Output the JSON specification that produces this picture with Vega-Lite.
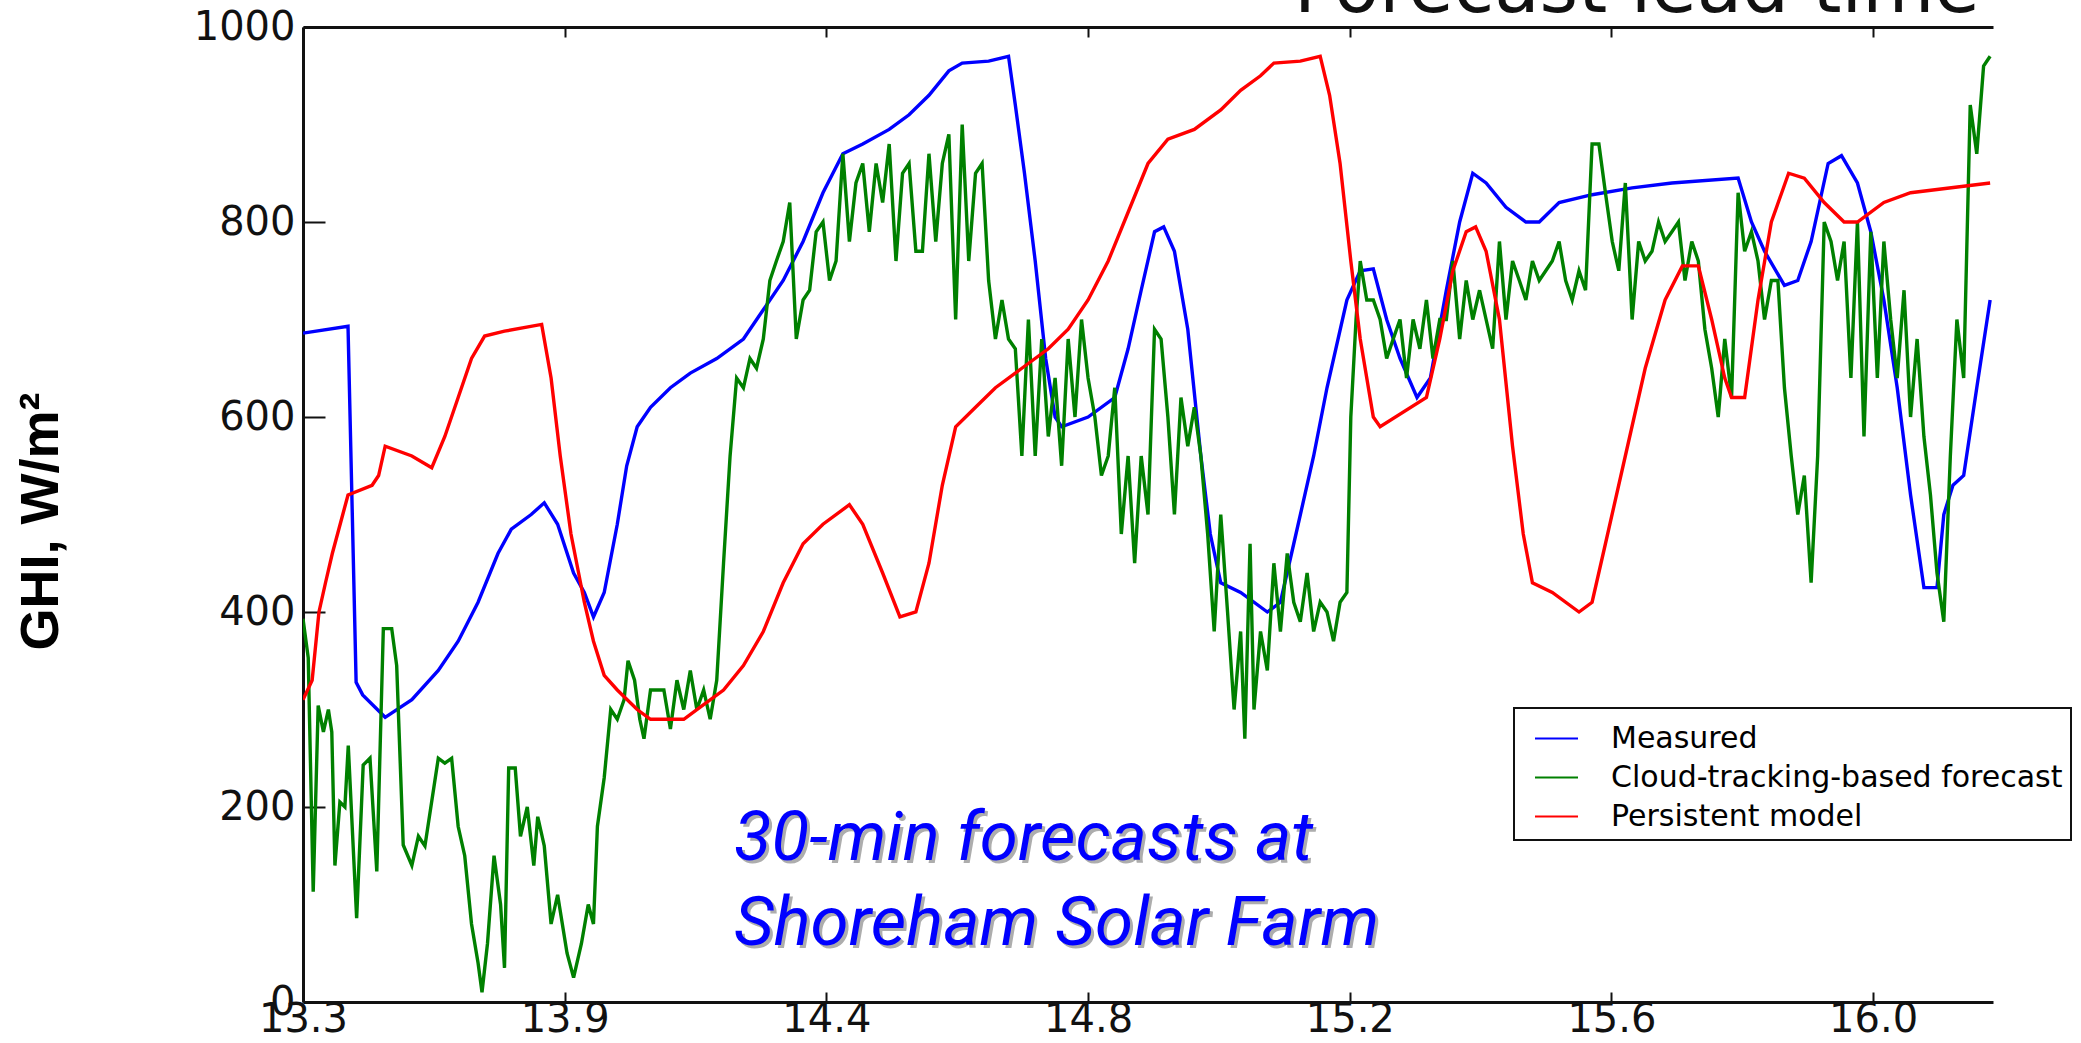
{
"$schema":"https://vega.github.io/schema/vega-lite/v6.json",
"width":1690,"height":975,
"autosize":{"type":"none"},
"padding":{"left":303,"top":27,"right":88,"bottom":41},
"background":"white",
"config":{"view":{"stroke":null},"axis":{"grid":false},"legend":{"strokeWidth":2}},
"datasets":{"lines":[
{"s":"Measured","t":0,"v":686},{"s":"Measured","t":0.172,"v":693},{"s":"Measured","t":0.203,"v":328},{"s":"Measured","t":0.228,"v":315},{"s":"Measured","t":0.314,"v":292},{"s":"Measured","t":0.416,"v":310},{"s":"Measured","t":0.517,"v":340},{"s":"Measured","t":0.593,"v":370},{"s":"Measured","t":0.669,"v":410},{"s":"Measured","t":0.745,"v":460},{"s":"Measured","t":0.796,"v":485},{"s":"Measured","t":0.872,"v":500},{"s":"Measured","t":0.922,"v":512},{"s":"Measured","t":0.973,"v":490},{"s":"Measured","t":1.034,"v":440},{"s":"Measured","t":1.075,"v":420},{"s":"Measured","t":1.11,"v":395},{"s":"Measured","t":1.151,"v":420},{"s":"Measured","t":1.201,"v":490},{"s":"Measured","t":1.237,"v":550},{"s":"Measured","t":1.277,"v":590},{"s":"Measured","t":1.328,"v":610},{"s":"Measured","t":1.404,"v":630},{"s":"Measured","t":1.48,"v":645},{"s":"Measured","t":1.581,"v":660},{"s":"Measured","t":1.683,"v":680},{"s":"Measured","t":1.759,"v":710},{"s":"Measured","t":1.835,"v":740},{"s":"Measured","t":1.911,"v":780},{"s":"Measured","t":1.987,"v":830},{"s":"Measured","t":2.063,"v":870},{"s":"Measured","t":2.139,"v":880},{"s":"Measured","t":2.24,"v":895},{"s":"Measured","t":2.316,"v":910},{"s":"Measured","t":2.392,"v":930},{"s":"Measured","t":2.468,"v":955},{"s":"Measured","t":2.519,"v":963},{"s":"Measured","t":2.62,"v":965},{"s":"Measured","t":2.696,"v":970},{"s":"Measured","t":2.722,"v":920},{"s":"Measured","t":2.757,"v":850},{"s":"Measured","t":2.798,"v":760},{"s":"Measured","t":2.838,"v":660},{"s":"Measured","t":2.874,"v":600},{"s":"Measured","t":2.899,"v":590},{"s":"Measured","t":3.0,"v":600},{"s":"Measured","t":3.102,"v":620},{"s":"Measured","t":3.153,"v":670},{"s":"Measured","t":3.203,"v":730},{"s":"Measured","t":3.254,"v":790},{"s":"Measured","t":3.289,"v":795},{"s":"Measured","t":3.33,"v":770},{"s":"Measured","t":3.381,"v":690},{"s":"Measured","t":3.431,"v":560},{"s":"Measured","t":3.467,"v":480},{"s":"Measured","t":3.507,"v":430},{"s":"Measured","t":3.583,"v":420},{"s":"Measured","t":3.685,"v":400},{"s":"Measured","t":3.735,"v":410},{"s":"Measured","t":3.786,"v":470},{"s":"Measured","t":3.862,"v":560},{"s":"Measured","t":3.913,"v":630},{"s":"Measured","t":3.989,"v":720},{"s":"Measured","t":4.04,"v":750},{"s":"Measured","t":4.09,"v":752},{"s":"Measured","t":4.141,"v":700},{"s":"Measured","t":4.192,"v":660},{"s":"Measured","t":4.257,"v":620},{"s":"Measured","t":4.308,"v":640},{"s":"Measured","t":4.369,"v":730},{"s":"Measured","t":4.42,"v":800},{"s":"Measured","t":4.47,"v":850},{"s":"Measured","t":4.521,"v":840},{"s":"Measured","t":4.597,"v":815},{"s":"Measured","t":4.673,"v":800},{"s":"Measured","t":4.724,"v":800},{"s":"Measured","t":4.8,"v":820},{"s":"Measured","t":4.926,"v":828},{"s":"Measured","t":5.079,"v":835},{"s":"Measured","t":5.231,"v":840},{"s":"Measured","t":5.484,"v":845},{"s":"Measured","t":5.535,"v":800},{"s":"Measured","t":5.585,"v":770},{"s":"Measured","t":5.661,"v":735},{"s":"Measured","t":5.712,"v":740},{"s":"Measured","t":5.763,"v":780},{"s":"Measured","t":5.828,"v":860},{"s":"Measured","t":5.879,"v":868},{"s":"Measured","t":5.94,"v":840},{"s":"Measured","t":5.991,"v":790},{"s":"Measured","t":6.041,"v":720},{"s":"Measured","t":6.092,"v":630},{"s":"Measured","t":6.143,"v":520},{"s":"Measured","t":6.194,"v":425},{"s":"Measured","t":6.244,"v":425},{"s":"Measured","t":6.27,"v":500},{"s":"Measured","t":6.305,"v":530},{"s":"Measured","t":6.346,"v":540},{"s":"Measured","t":6.396,"v":630},{"s":"Measured","t":6.447,"v":720},
{"s":"Cloud-tracking-based forecast","t":0,"v":393},{"s":"Cloud-tracking-based forecast","t":0.02,"v":353},{"s":"Cloud-tracking-based forecast","t":0.039,"v":113},{"s":"Cloud-tracking-based forecast","t":0.058,"v":304},{"s":"Cloud-tracking-based forecast","t":0.078,"v":277},{"s":"Cloud-tracking-based forecast","t":0.097,"v":300},{"s":"Cloud-tracking-based forecast","t":0.11,"v":277},{"s":"Cloud-tracking-based forecast","t":0.122,"v":140},{"s":"Cloud-tracking-based forecast","t":0.141,"v":205},{"s":"Cloud-tracking-based forecast","t":0.16,"v":200},{"s":"Cloud-tracking-based forecast","t":0.173,"v":263},{"s":"Cloud-tracking-based forecast","t":0.205,"v":86},{"s":"Cloud-tracking-based forecast","t":0.23,"v":243},{"s":"Cloud-tracking-based forecast","t":0.256,"v":250},{"s":"Cloud-tracking-based forecast","t":0.282,"v":134},{"s":"Cloud-tracking-based forecast","t":0.307,"v":383},{"s":"Cloud-tracking-based forecast","t":0.339,"v":383},{"s":"Cloud-tracking-based forecast","t":0.358,"v":345},{"s":"Cloud-tracking-based forecast","t":0.383,"v":161},{"s":"Cloud-tracking-based forecast","t":0.416,"v":140},{"s":"Cloud-tracking-based forecast","t":0.441,"v":170},{"s":"Cloud-tracking-based forecast","t":0.466,"v":160},{"s":"Cloud-tracking-based forecast","t":0.517,"v":250},{"s":"Cloud-tracking-based forecast","t":0.542,"v":245},{"s":"Cloud-tracking-based forecast","t":0.568,"v":250},{"s":"Cloud-tracking-based forecast","t":0.593,"v":180},{"s":"Cloud-tracking-based forecast","t":0.618,"v":150},{"s":"Cloud-tracking-based forecast","t":0.644,"v":80},{"s":"Cloud-tracking-based forecast","t":0.669,"v":40},{"s":"Cloud-tracking-based forecast","t":0.684,"v":10},{"s":"Cloud-tracking-based forecast","t":0.705,"v":60},{"s":"Cloud-tracking-based forecast","t":0.73,"v":150},{"s":"Cloud-tracking-based forecast","t":0.755,"v":100},{"s":"Cloud-tracking-based forecast","t":0.77,"v":35},{"s":"Cloud-tracking-based forecast","t":0.786,"v":240},{"s":"Cloud-tracking-based forecast","t":0.811,"v":240},{"s":"Cloud-tracking-based forecast","t":0.831,"v":170},{"s":"Cloud-tracking-based forecast","t":0.857,"v":200},{"s":"Cloud-tracking-based forecast","t":0.882,"v":140},{"s":"Cloud-tracking-based forecast","t":0.897,"v":190},{"s":"Cloud-tracking-based forecast","t":0.922,"v":160},{"s":"Cloud-tracking-based forecast","t":0.948,"v":80},{"s":"Cloud-tracking-based forecast","t":0.973,"v":110},{"s":"Cloud-tracking-based forecast","t":1.009,"v":50},{"s":"Cloud-tracking-based forecast","t":1.034,"v":25},{"s":"Cloud-tracking-based forecast","t":1.064,"v":60},{"s":"Cloud-tracking-based forecast","t":1.09,"v":100},{"s":"Cloud-tracking-based forecast","t":1.11,"v":80},{"s":"Cloud-tracking-based forecast","t":1.125,"v":180},{"s":"Cloud-tracking-based forecast","t":1.151,"v":230},{"s":"Cloud-tracking-based forecast","t":1.176,"v":300},{"s":"Cloud-tracking-based forecast","t":1.201,"v":290},{"s":"Cloud-tracking-based forecast","t":1.227,"v":310},{"s":"Cloud-tracking-based forecast","t":1.242,"v":350},{"s":"Cloud-tracking-based forecast","t":1.267,"v":330},{"s":"Cloud-tracking-based forecast","t":1.287,"v":290},{"s":"Cloud-tracking-based forecast","t":1.303,"v":270},{"s":"Cloud-tracking-based forecast","t":1.328,"v":320},{"s":"Cloud-tracking-based forecast","t":1.353,"v":320},{"s":"Cloud-tracking-based forecast","t":1.379,"v":320},{"s":"Cloud-tracking-based forecast","t":1.404,"v":280},{"s":"Cloud-tracking-based forecast","t":1.429,"v":330},{"s":"Cloud-tracking-based forecast","t":1.455,"v":300},{"s":"Cloud-tracking-based forecast","t":1.48,"v":340},{"s":"Cloud-tracking-based forecast","t":1.505,"v":300},{"s":"Cloud-tracking-based forecast","t":1.531,"v":320},{"s":"Cloud-tracking-based forecast","t":1.556,"v":290},{"s":"Cloud-tracking-based forecast","t":1.581,"v":330},{"s":"Cloud-tracking-based forecast","t":1.607,"v":450},{"s":"Cloud-tracking-based forecast","t":1.632,"v":560},{"s":"Cloud-tracking-based forecast","t":1.657,"v":640},{"s":"Cloud-tracking-based forecast","t":1.683,"v":630},{"s":"Cloud-tracking-based forecast","t":1.708,"v":660},{"s":"Cloud-tracking-based forecast","t":1.733,"v":650},{"s":"Cloud-tracking-based forecast","t":1.759,"v":680},{"s":"Cloud-tracking-based forecast","t":1.784,"v":740},{"s":"Cloud-tracking-based forecast","t":1.809,"v":760},{"s":"Cloud-tracking-based forecast","t":1.835,"v":780},{"s":"Cloud-tracking-based forecast","t":1.86,"v":820},{"s":"Cloud-tracking-based forecast","t":1.885,"v":680},{"s":"Cloud-tracking-based forecast","t":1.911,"v":720},{"s":"Cloud-tracking-based forecast","t":1.936,"v":730},{"s":"Cloud-tracking-based forecast","t":1.961,"v":790},{"s":"Cloud-tracking-based forecast","t":1.987,"v":800},{"s":"Cloud-tracking-based forecast","t":2.012,"v":740},{"s":"Cloud-tracking-based forecast","t":2.037,"v":760},{"s":"Cloud-tracking-based forecast","t":2.063,"v":870},{"s":"Cloud-tracking-based forecast","t":2.088,"v":780},{"s":"Cloud-tracking-based forecast","t":2.113,"v":840},{"s":"Cloud-tracking-based forecast","t":2.139,"v":860},{"s":"Cloud-tracking-based forecast","t":2.164,"v":790},{"s":"Cloud-tracking-based forecast","t":2.19,"v":860},{"s":"Cloud-tracking-based forecast","t":2.215,"v":820},{"s":"Cloud-tracking-based forecast","t":2.24,"v":880},{"s":"Cloud-tracking-based forecast","t":2.266,"v":760},{"s":"Cloud-tracking-based forecast","t":2.291,"v":850},{"s":"Cloud-tracking-based forecast","t":2.316,"v":860},{"s":"Cloud-tracking-based forecast","t":2.342,"v":770},{"s":"Cloud-tracking-based forecast","t":2.367,"v":770},{"s":"Cloud-tracking-based forecast","t":2.392,"v":870},{"s":"Cloud-tracking-based forecast","t":2.418,"v":780},{"s":"Cloud-tracking-based forecast","t":2.443,"v":860},{"s":"Cloud-tracking-based forecast","t":2.468,"v":890},{"s":"Cloud-tracking-based forecast","t":2.494,"v":700},{"s":"Cloud-tracking-based forecast","t":2.519,"v":900},{"s":"Cloud-tracking-based forecast","t":2.544,"v":760},{"s":"Cloud-tracking-based forecast","t":2.57,"v":850},{"s":"Cloud-tracking-based forecast","t":2.595,"v":860},{"s":"Cloud-tracking-based forecast","t":2.62,"v":740},{"s":"Cloud-tracking-based forecast","t":2.646,"v":680},{"s":"Cloud-tracking-based forecast","t":2.671,"v":720},{"s":"Cloud-tracking-based forecast","t":2.696,"v":680},{"s":"Cloud-tracking-based forecast","t":2.722,"v":670},{"s":"Cloud-tracking-based forecast","t":2.747,"v":560},{"s":"Cloud-tracking-based forecast","t":2.772,"v":700},{"s":"Cloud-tracking-based forecast","t":2.798,"v":560},{"s":"Cloud-tracking-based forecast","t":2.823,"v":680},{"s":"Cloud-tracking-based forecast","t":2.848,"v":580},{"s":"Cloud-tracking-based forecast","t":2.874,"v":640},{"s":"Cloud-tracking-based forecast","t":2.899,"v":550},{"s":"Cloud-tracking-based forecast","t":2.924,"v":680},{"s":"Cloud-tracking-based forecast","t":2.95,"v":600},{"s":"Cloud-tracking-based forecast","t":2.975,"v":700},{"s":"Cloud-tracking-based forecast","t":3.0,"v":640},{"s":"Cloud-tracking-based forecast","t":3.026,"v":600},{"s":"Cloud-tracking-based forecast","t":3.051,"v":540},{"s":"Cloud-tracking-based forecast","t":3.077,"v":560},{"s":"Cloud-tracking-based forecast","t":3.102,"v":630},{"s":"Cloud-tracking-based forecast","t":3.127,"v":480},{"s":"Cloud-tracking-based forecast","t":3.153,"v":560},{"s":"Cloud-tracking-based forecast","t":3.178,"v":450},{"s":"Cloud-tracking-based forecast","t":3.203,"v":560},{"s":"Cloud-tracking-based forecast","t":3.229,"v":500},{"s":"Cloud-tracking-based forecast","t":3.254,"v":690},{"s":"Cloud-tracking-based forecast","t":3.279,"v":680},{"s":"Cloud-tracking-based forecast","t":3.305,"v":600},{"s":"Cloud-tracking-based forecast","t":3.33,"v":500},{"s":"Cloud-tracking-based forecast","t":3.355,"v":620},{"s":"Cloud-tracking-based forecast","t":3.381,"v":570},{"s":"Cloud-tracking-based forecast","t":3.406,"v":610},{"s":"Cloud-tracking-based forecast","t":3.431,"v":560},{"s":"Cloud-tracking-based forecast","t":3.457,"v":480},{"s":"Cloud-tracking-based forecast","t":3.482,"v":380},{"s":"Cloud-tracking-based forecast","t":3.507,"v":500},{"s":"Cloud-tracking-based forecast","t":3.533,"v":400},{"s":"Cloud-tracking-based forecast","t":3.558,"v":300},{"s":"Cloud-tracking-based forecast","t":3.583,"v":380},{"s":"Cloud-tracking-based forecast","t":3.599,"v":270},{"s":"Cloud-tracking-based forecast","t":3.619,"v":470},{"s":"Cloud-tracking-based forecast","t":3.634,"v":300},{"s":"Cloud-tracking-based forecast","t":3.659,"v":380},{"s":"Cloud-tracking-based forecast","t":3.685,"v":340},{"s":"Cloud-tracking-based forecast","t":3.71,"v":450},{"s":"Cloud-tracking-based forecast","t":3.735,"v":380},{"s":"Cloud-tracking-based forecast","t":3.761,"v":460},{"s":"Cloud-tracking-based forecast","t":3.786,"v":410},{"s":"Cloud-tracking-based forecast","t":3.811,"v":390},{"s":"Cloud-tracking-based forecast","t":3.837,"v":440},{"s":"Cloud-tracking-based forecast","t":3.862,"v":380},{"s":"Cloud-tracking-based forecast","t":3.887,"v":410},{"s":"Cloud-tracking-based forecast","t":3.913,"v":400},{"s":"Cloud-tracking-based forecast","t":3.938,"v":370},{"s":"Cloud-tracking-based forecast","t":3.963,"v":410},{"s":"Cloud-tracking-based forecast","t":3.989,"v":420},{"s":"Cloud-tracking-based forecast","t":4.004,"v":600},{"s":"Cloud-tracking-based forecast","t":4.024,"v":700},{"s":"Cloud-tracking-based forecast","t":4.04,"v":760},{"s":"Cloud-tracking-based forecast","t":4.065,"v":720},{"s":"Cloud-tracking-based forecast","t":4.09,"v":720},{"s":"Cloud-tracking-based forecast","t":4.116,"v":700},{"s":"Cloud-tracking-based forecast","t":4.141,"v":660},{"s":"Cloud-tracking-based forecast","t":4.166,"v":680},{"s":"Cloud-tracking-based forecast","t":4.192,"v":700},{"s":"Cloud-tracking-based forecast","t":4.217,"v":640},{"s":"Cloud-tracking-based forecast","t":4.242,"v":700},{"s":"Cloud-tracking-based forecast","t":4.268,"v":670},{"s":"Cloud-tracking-based forecast","t":4.293,"v":720},{"s":"Cloud-tracking-based forecast","t":4.318,"v":660},{"s":"Cloud-tracking-based forecast","t":4.344,"v":700},{"s":"Cloud-tracking-based forecast","t":4.369,"v":700},{"s":"Cloud-tracking-based forecast","t":4.394,"v":760},{"s":"Cloud-tracking-based forecast","t":4.42,"v":680},{"s":"Cloud-tracking-based forecast","t":4.445,"v":740},{"s":"Cloud-tracking-based forecast","t":4.47,"v":700},{"s":"Cloud-tracking-based forecast","t":4.496,"v":730},{"s":"Cloud-tracking-based forecast","t":4.521,"v":700},{"s":"Cloud-tracking-based forecast","t":4.546,"v":670},{"s":"Cloud-tracking-based forecast","t":4.572,"v":780},{"s":"Cloud-tracking-based forecast","t":4.597,"v":700},{"s":"Cloud-tracking-based forecast","t":4.622,"v":760},{"s":"Cloud-tracking-based forecast","t":4.648,"v":740},{"s":"Cloud-tracking-based forecast","t":4.673,"v":720},{"s":"Cloud-tracking-based forecast","t":4.698,"v":760},{"s":"Cloud-tracking-based forecast","t":4.724,"v":740},{"s":"Cloud-tracking-based forecast","t":4.749,"v":750},{"s":"Cloud-tracking-based forecast","t":4.774,"v":760},{"s":"Cloud-tracking-based forecast","t":4.8,"v":780},{"s":"Cloud-tracking-based forecast","t":4.825,"v":740},{"s":"Cloud-tracking-based forecast","t":4.85,"v":720},{"s":"Cloud-tracking-based forecast","t":4.876,"v":750},{"s":"Cloud-tracking-based forecast","t":4.901,"v":730},{"s":"Cloud-tracking-based forecast","t":4.926,"v":880},{"s":"Cloud-tracking-based forecast","t":4.952,"v":880},{"s":"Cloud-tracking-based forecast","t":4.977,"v":830},{"s":"Cloud-tracking-based forecast","t":5.003,"v":780},{"s":"Cloud-tracking-based forecast","t":5.028,"v":750},{"s":"Cloud-tracking-based forecast","t":5.053,"v":840},{"s":"Cloud-tracking-based forecast","t":5.079,"v":700},{"s":"Cloud-tracking-based forecast","t":5.104,"v":780},{"s":"Cloud-tracking-based forecast","t":5.129,"v":760},{"s":"Cloud-tracking-based forecast","t":5.155,"v":770},{"s":"Cloud-tracking-based forecast","t":5.18,"v":800},{"s":"Cloud-tracking-based forecast","t":5.205,"v":780},{"s":"Cloud-tracking-based forecast","t":5.231,"v":790},{"s":"Cloud-tracking-based forecast","t":5.256,"v":800},{"s":"Cloud-tracking-based forecast","t":5.281,"v":740},{"s":"Cloud-tracking-based forecast","t":5.307,"v":780},{"s":"Cloud-tracking-based forecast","t":5.332,"v":760},{"s":"Cloud-tracking-based forecast","t":5.357,"v":690},{"s":"Cloud-tracking-based forecast","t":5.383,"v":650},{"s":"Cloud-tracking-based forecast","t":5.408,"v":600},{"s":"Cloud-tracking-based forecast","t":5.433,"v":680},{"s":"Cloud-tracking-based forecast","t":5.459,"v":620},{"s":"Cloud-tracking-based forecast","t":5.484,"v":830},{"s":"Cloud-tracking-based forecast","t":5.509,"v":770},{"s":"Cloud-tracking-based forecast","t":5.535,"v":790},{"s":"Cloud-tracking-based forecast","t":5.56,"v":760},{"s":"Cloud-tracking-based forecast","t":5.585,"v":700},{"s":"Cloud-tracking-based forecast","t":5.611,"v":740},{"s":"Cloud-tracking-based forecast","t":5.636,"v":740},{"s":"Cloud-tracking-based forecast","t":5.661,"v":630},{"s":"Cloud-tracking-based forecast","t":5.687,"v":560},{"s":"Cloud-tracking-based forecast","t":5.712,"v":500},{"s":"Cloud-tracking-based forecast","t":5.737,"v":540},{"s":"Cloud-tracking-based forecast","t":5.763,"v":430},{"s":"Cloud-tracking-based forecast","t":5.788,"v":560},{"s":"Cloud-tracking-based forecast","t":5.813,"v":800},{"s":"Cloud-tracking-based forecast","t":5.839,"v":780},{"s":"Cloud-tracking-based forecast","t":5.864,"v":740},{"s":"Cloud-tracking-based forecast","t":5.889,"v":780},{"s":"Cloud-tracking-based forecast","t":5.915,"v":640},{"s":"Cloud-tracking-based forecast","t":5.94,"v":800},{"s":"Cloud-tracking-based forecast","t":5.965,"v":580},{"s":"Cloud-tracking-based forecast","t":5.991,"v":790},{"s":"Cloud-tracking-based forecast","t":6.016,"v":640},{"s":"Cloud-tracking-based forecast","t":6.041,"v":780},{"s":"Cloud-tracking-based forecast","t":6.067,"v":700},{"s":"Cloud-tracking-based forecast","t":6.092,"v":640},{"s":"Cloud-tracking-based forecast","t":6.118,"v":730},{"s":"Cloud-tracking-based forecast","t":6.143,"v":600},{"s":"Cloud-tracking-based forecast","t":6.168,"v":680},{"s":"Cloud-tracking-based forecast","t":6.194,"v":580},{"s":"Cloud-tracking-based forecast","t":6.219,"v":520},{"s":"Cloud-tracking-based forecast","t":6.244,"v":440},{"s":"Cloud-tracking-based forecast","t":6.27,"v":390},{"s":"Cloud-tracking-based forecast","t":6.295,"v":560},{"s":"Cloud-tracking-based forecast","t":6.32,"v":700},{"s":"Cloud-tracking-based forecast","t":6.346,"v":640},{"s":"Cloud-tracking-based forecast","t":6.371,"v":920},{"s":"Cloud-tracking-based forecast","t":6.396,"v":870},{"s":"Cloud-tracking-based forecast","t":6.422,"v":960},{"s":"Cloud-tracking-based forecast","t":6.447,"v":970},
{"s":"Persistent model","t":0,"v":310},{"s":"Persistent model","t":0.035,"v":330},{"s":"Persistent model","t":0.061,"v":400},{"s":"Persistent model","t":0.086,"v":430},{"s":"Persistent model","t":0.112,"v":460},{"s":"Persistent model","t":0.152,"v":500},{"s":"Persistent model","t":0.172,"v":520},{"s":"Persistent model","t":0.264,"v":530},{"s":"Persistent model","t":0.289,"v":540},{"s":"Persistent model","t":0.314,"v":570},{"s":"Persistent model","t":0.416,"v":560},{"s":"Persistent model","t":0.492,"v":548},{"s":"Persistent model","t":0.542,"v":580},{"s":"Persistent model","t":0.593,"v":620},{"s":"Persistent model","t":0.644,"v":660},{"s":"Persistent model","t":0.694,"v":683},{"s":"Persistent model","t":0.77,"v":688},{"s":"Persistent model","t":0.912,"v":695},{"s":"Persistent model","t":0.948,"v":640},{"s":"Persistent model","t":0.983,"v":560},{"s":"Persistent model","t":1.024,"v":480},{"s":"Persistent model","t":1.075,"v":410},{"s":"Persistent model","t":1.11,"v":370},{"s":"Persistent model","t":1.151,"v":335},{"s":"Persistent model","t":1.201,"v":320},{"s":"Persistent model","t":1.277,"v":300},{"s":"Persistent model","t":1.328,"v":290},{"s":"Persistent model","t":1.455,"v":290},{"s":"Persistent model","t":1.531,"v":305},{"s":"Persistent model","t":1.607,"v":320},{"s":"Persistent model","t":1.683,"v":345},{"s":"Persistent model","t":1.759,"v":380},{"s":"Persistent model","t":1.835,"v":430},{"s":"Persistent model","t":1.911,"v":470},{"s":"Persistent model","t":1.987,"v":490},{"s":"Persistent model","t":2.088,"v":510},{"s":"Persistent model","t":2.139,"v":490},{"s":"Persistent model","t":2.215,"v":440},{"s":"Persistent model","t":2.281,"v":395},{"s":"Persistent model","t":2.342,"v":400},{"s":"Persistent model","t":2.392,"v":450},{"s":"Persistent model","t":2.443,"v":530},{"s":"Persistent model","t":2.494,"v":590},{"s":"Persistent model","t":2.57,"v":610},{"s":"Persistent model","t":2.646,"v":630},{"s":"Persistent model","t":2.747,"v":650},{"s":"Persistent model","t":2.848,"v":670},{"s":"Persistent model","t":2.924,"v":690},{"s":"Persistent model","t":3.0,"v":720},{"s":"Persistent model","t":3.077,"v":760},{"s":"Persistent model","t":3.153,"v":810},{"s":"Persistent model","t":3.229,"v":860},{"s":"Persistent model","t":3.305,"v":885},{"s":"Persistent model","t":3.406,"v":895},{"s":"Persistent model","t":3.507,"v":915},{"s":"Persistent model","t":3.583,"v":935},{"s":"Persistent model","t":3.659,"v":950},{"s":"Persistent model","t":3.71,"v":963},{"s":"Persistent model","t":3.811,"v":965},{"s":"Persistent model","t":3.887,"v":970},{"s":"Persistent model","t":3.923,"v":930},{"s":"Persistent model","t":3.963,"v":860},{"s":"Persistent model","t":4.004,"v":760},{"s":"Persistent model","t":4.04,"v":680},{"s":"Persistent model","t":4.09,"v":600},{"s":"Persistent model","t":4.116,"v":590},{"s":"Persistent model","t":4.293,"v":620},{"s":"Persistent model","t":4.344,"v":680},{"s":"Persistent model","t":4.394,"v":750},{"s":"Persistent model","t":4.445,"v":790},{"s":"Persistent model","t":4.481,"v":795},{"s":"Persistent model","t":4.521,"v":770},{"s":"Persistent model","t":4.572,"v":700},{"s":"Persistent model","t":4.622,"v":570},{"s":"Persistent model","t":4.663,"v":480},{"s":"Persistent model","t":4.698,"v":430},{"s":"Persistent model","t":4.774,"v":420},{"s":"Persistent model","t":4.876,"v":400},{"s":"Persistent model","t":4.926,"v":410},{"s":"Persistent model","t":4.977,"v":470},{"s":"Persistent model","t":5.053,"v":560},{"s":"Persistent model","t":5.129,"v":650},{"s":"Persistent model","t":5.205,"v":720},{"s":"Persistent model","t":5.271,"v":755},{"s":"Persistent model","t":5.332,"v":755},{"s":"Persistent model","t":5.383,"v":700},{"s":"Persistent model","t":5.433,"v":640},{"s":"Persistent model","t":5.459,"v":620},{"s":"Persistent model","t":5.509,"v":620},{"s":"Persistent model","t":5.56,"v":720},{"s":"Persistent model","t":5.611,"v":800},{"s":"Persistent model","t":5.677,"v":850},{"s":"Persistent model","t":5.737,"v":845},{"s":"Persistent model","t":5.813,"v":820},{"s":"Persistent model","t":5.889,"v":800},{"s":"Persistent model","t":5.94,"v":800},{"s":"Persistent model","t":6.041,"v":820},{"s":"Persistent model","t":6.143,"v":830},{"s":"Persistent model","t":6.447,"v":840}
]},
"resolve":{"axis":{"x":"independent"}},
"layer":[
{"data":{"name":"lines"},
 "mark":{"type":"line","strokeWidth":3.4,"clip":true},
 "encoding":{
  "x":{"field":"t","type":"quantitative","scale":{"domain":[0,6.458],"nice":false,"zero":false},
   "axis":{"orient":"bottom","values":[0,1,2,3,4,5,6],"labelExpr":"['13.3','13.9','14.4','14.8','15.2','15.6','16.0'][datum.value]","title":null,"tickSize":-10,"labelPadding":7,"labelFont":"DejaVu Sans","labelFontSize":40,"labelColor":"#111","domainColor":"#111","domainWidth":3,"tickColor":"#111","tickWidth":2,"labelFlush":false,"labelOverlap":false}},
  "y":{"field":"v","type":"quantitative","scale":{"domain":[0,1000],"nice":false,"zero":false},
   "axis":{"values":[0,200,400,600,800,1000],"format":"d","title":"GHI, W/m²","titleFont":"Liberation Sans","titleFontWeight":"bold","titleFontSize":54,"titleColor":"#000","titleX":-262,"titleY":494,"titleAngle":-90,"titleAlign":"center","titleBaseline":"middle","tickSize":-22,"labelPadding":30,"labelFont":"DejaVu Sans","labelFontSize":40,"labelColor":"#111","domainColor":"#111","domainWidth":3,"tickColor":"#111","tickWidth":2,"labelFlush":false,"labelOverlap":false}},
  "color":{"field":"s","type":"nominal","scale":{"domain":["Measured","Cloud-tracking-based forecast","Persistent model"],"range":["#0000ff","#008000","#ff0000"]},
   "legend":{"orient":"none","legendX":1211,"legendY":681,"title":null,"symbolType":"stroke","symbolStrokeWidth":2,"symbolSize":1849,"symbolOffset":12,"labelFont":"DejaVu Sans","labelFontSize":30,"labelColor":"#000","labelLimit":800,"labelOffset":32,"strokeColor":"#111","fillColor":"white","padding":8,"rowPadding":1}}
 }},
{"data":{"name":"lines"},
 "mark":{"type":"line","opacity":0},
 "encoding":{
  "x":{"field":"t","type":"quantitative","scale":{"domain":[0,6.458],"nice":false,"zero":false},
   "axis":{"orient":"top","values":[0,1,2,3,4,5,6],"labels":false,"title":null,"tickSize":-10,"domainColor":"#111","domainWidth":3,"tickColor":"#111","tickWidth":2}},
  "y":{"field":"v","type":"quantitative","scale":{"domain":[0,1000],"nice":false,"zero":false}}
 }},
{"data":{"values":[{}]},
 "mark":{"type":"text","align":"left","baseline":"alphabetic","font":"Roboto","fontStyle":"italic","fontSize":69,"lineHeight":85,"color":"#777777","opacity":0.6,"dx":3,"dy":3},
 "encoding":{"x":{"datum":1.647,"type":"quantitative","scale":{"domain":[0,6.458],"nice":false,"zero":false},"axis":null},"y":{"datum":145.6,"type":"quantitative","scale":{"domain":[0,1000],"nice":false,"zero":false}},"text":{"value":["30-min forecasts at","Shoreham Solar Farm"]}}},
{"data":{"values":[{}]},
 "mark":{"type":"text","align":"left","baseline":"alphabetic","font":"Roboto","fontStyle":"italic","fontSize":69,"lineHeight":85,"color":"#0000ff"},
 "encoding":{"x":{"datum":1.647,"type":"quantitative","scale":{"domain":[0,6.458],"nice":false,"zero":false},"axis":null},"y":{"datum":145.6,"type":"quantitative","scale":{"domain":[0,1000],"nice":false,"zero":false}},"text":{"value":["30-min forecasts at","Shoreham Solar Farm"]}}},
{"data":{"values":[{}]},
 "mark":{"type":"text","align":"left","baseline":"alphabetic","font":"DejaVu Sans","fontSize":74,"color":"#111"},
 "encoding":{"x":{"datum":3.787,"type":"quantitative","scale":{"domain":[0,6.458],"nice":false,"zero":false},"axis":null},"y":{"datum":1015,"type":"quantitative","scale":{"domain":[0,1000],"nice":false,"zero":false}},"text":{"value":"Forecast lead time"}}}
]
}
